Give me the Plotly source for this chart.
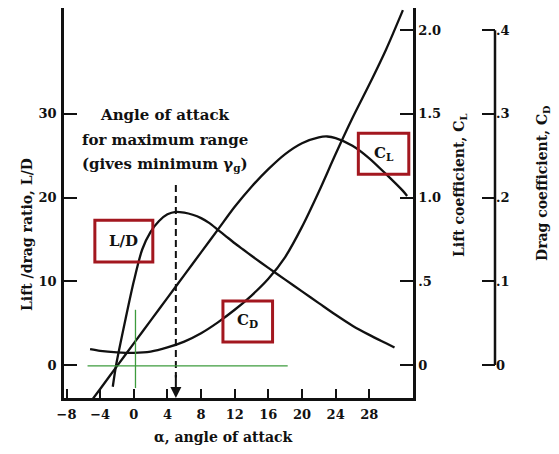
import plotly.graph_objects as go

# ---------------- data ----------------
alpha_ld = [-2.5, -2.1, -1, 0, 1, 2, 3, 4, 5, 6, 7, 8, 9, 10, 11, 12, 13, 14, 16, 18, 20, 22, 24, 26,
            28, 30, 31]
lift_drag = [-2.6, 0.0, 5.4, 10.0, 13.8, 15.9, 17.2, 18.0, 18.3, 18.2, 17.95, 17.55, 16.95, 16.15,
             15.35, 14.55, 13.8, 13.05, 11.6, 10.2, 8.8, 7.4, 6.0, 4.7, 3.6, 2.6, 2.1]

alpha_cl = [-4.9, -4, -2, 0, 2, 4, 6, 8, 10, 12, 14, 16, 18, 20, 22, 23, 24, 26, 28, 30, 32, 32.5]
lift_coef = [-0.204, -0.143, -0.007, 0.129, 0.265, 0.401, 0.537, 0.673, 0.809, 0.945, 1.065, 1.17,
             1.26, 1.325, 1.36, 1.365, 1.355, 1.31, 1.235, 1.14, 1.04, 1.01]

alpha_cd = [-5.2, -4, -2, 0, 2, 4, 6, 8, 10, 12, 14, 16, 18, 20, 22, 24, 26, 28, 30, 32]
drag_coef = [0.019, 0.017, 0.0152, 0.0145, 0.016, 0.021, 0.028, 0.038, 0.051, 0.066, 0.083, 0.103,
             0.129, 0.165, 0.207, 0.252, 0.295, 0.335, 0.377, 0.424]

x_ticks = [-8, -4, 0, 4, 8, 12, 16, 20, 24, 28]
ld_ticks = [0, 10, 20, 30]
cl_ticks = [0, 0.5, 1.0, 1.5, 2.0]
cl_tick_text = ["0", ".5", "1.0", "1.5", "2.0"]
cd_ticks = [0, 0.1, 0.2, 0.3, 0.4]
cd_tick_text = ["0", ".1", ".2", ".3", ".4"]

alpha_max_range = 5

# ---------------- layout geometry ----------------
W, H = 559, 454
ML, MR, MT, MB = 64, 20, 8, 56
PW = W - ML - MR
PH = H - MT - MB
x_range = [-8.3, 33.2]
ld_range = [-3.94, 42.65]
cl_range = [v / 20 for v in ld_range]
cd_range = [v / 100 for v in ld_range]
x_dom_end = 349 / PW
cd_pos = (495 - ML) / PW

FONT = "DejaVu Serif"
BLACK = "#111111"
RED = "#a3171f"
GREEN = "#3d9b3d"
LW = 2.3

fig = go.Figure()
fig.add_trace(go.Scatter(x=alpha_ld, y=lift_drag, mode="lines", yaxis="y",
                         line=dict(color=BLACK, width=LW, shape="spline", smoothing=0.8),
                         showlegend=False, hoverinfo="skip"))
fig.add_trace(go.Scatter(x=alpha_cl, y=lift_coef, mode="lines", yaxis="y2",
                         line=dict(color=BLACK, width=LW, shape="spline", smoothing=0.8),
                         showlegend=False, hoverinfo="skip"))
fig.add_trace(go.Scatter(x=alpha_cd, y=drag_coef, mode="lines", yaxis="y3",
                         line=dict(color=BLACK, width=LW, shape="spline", smoothing=0.8),
                         showlegend=False, hoverinfo="skip", cliponaxis=False))

tickfont = dict(family=FONT, size=13, color=BLACK, weight="bold")
fig.update_layout(
    width=W, height=H,
    margin=dict(l=ML, r=MR, t=MT, b=MB, autoexpand=False),
    paper_bgcolor="white", plot_bgcolor="white",
    font=dict(family=FONT, color=BLACK),
    xaxis=dict(domain=[0, x_dom_end], range=x_range, tickvals=x_ticks, automargin=False,
               ticks="inside", ticklen=9, tickwidth=2, tickcolor=BLACK,
               showline=True, linewidth=2.5, linecolor=BLACK, showgrid=False, zeroline=False,
               tickfont=tickfont, ticklabelstandoff=3),
    yaxis=dict(range=ld_range, tickvals=ld_ticks, ticks="inside", ticklen=13, tickwidth=2,
               tickcolor=BLACK, showline=True, linewidth=2.5, linecolor=BLACK, automargin=False,
               showgrid=False, zeroline=False, tickfont=tickfont, ticklabelstandoff=2),
    yaxis2=dict(overlaying="y", side="right", anchor="x", range=cl_range, automargin=False,
                tickvals=cl_ticks, ticktext=cl_tick_text, ticks="inside", ticklen=13,
                tickwidth=2, tickcolor=BLACK, showline=True, linewidth=2.5, linecolor=BLACK,
                showgrid=False, zeroline=False, tickfont=tickfont, ticklabelstandoff=0),
    yaxis3=dict(overlaying="y", side="right", anchor="free", position=cd_pos, range=cd_range,
                tickvals=cd_ticks, ticktext=cd_tick_text, ticks="inside", ticklen=13,
                tickwidth=2, tickcolor=BLACK, showline=False, automargin=False,
                showgrid=False, zeroline=False, tickfont=tickfont, ticklabelstandoff=0),
)

shapes = []
# CD axis line spanning 0 .. 0.4 only
shapes.append(dict(type="line", xref="paper", yref="y3", x0=cd_pos, x1=cd_pos,
                   y0=cd_ticks[0], y1=cd_ticks[-1], line=dict(color=BLACK, width=2.5)))
# dashed line at alpha for max range
shapes.append(dict(type="line", xref="x", yref="y", x0=alpha_max_range, x1=alpha_max_range,
                   y0=21.5, y1=-1.5, line=dict(color=BLACK, width=2, dash="7px,4px")))
# green helper lines
shapes.append(dict(type="line", xref="x", yref="y", x0=0.2, x1=0.2, y0=-2.75, y1=6.6,
                   line=dict(color=GREEN, width=1.3)))
shapes.append(dict(type="line", xref="x", yref="y", x0=-5.5, x1=18.3, y0=-0.1, y1=-0.1,
                   line=dict(color=GREEN, width=1.3)))
# red label boxes
boxes = [(-4.63, 2.26, 12.3, 17.3), (26.7, 32.7, 22.8, 27.7), (10.6, 16.5, 2.75, 7.65)]
for x0, x1, y0, y1 in boxes:
    shapes.append(dict(type="rect", xref="x", yref="y", x0=x0, x1=x1, y0=y0, y1=y1,
                       line=dict(color=RED, width=3), fillcolor="rgba(0,0,0,0)"))
fig.update_layout(shapes=shapes)

C = dict(xanchor="center", yanchor="middle", showarrow=False)
ann = []
labfont = dict(family=FONT, size=15, color=BLACK, weight="bold")
ann.append(dict(x=-1.19, y=14.8, xref="x", yref="y", text="L/D", font=labfont, **C))
ann.append(dict(x=29.7, y=25.3, xref="x", yref="y", text="C<sub>L</sub>", font=labfont, **C))
ann.append(dict(x=13.5, y=5.3, xref="x", yref="y", text="C<sub>D</sub>", font=labfont, **C))
# arrow head on the dashed line
ann.append(dict(x=alpha_max_range, y=ld_range[0], ax=alpha_max_range, ay=-1.0,
                xref="x", yref="y", axref="x", ayref="y", text="", showarrow=True,
                arrowhead=2, arrowsize=1.1, arrowwidth=2, arrowcolor=BLACK))
# explanatory text
txtfont = dict(family=FONT, size=15, color=BLACK, weight="bold")
for t, yv in [("Angle of attack", 29.9), ("for maximum range", 26.9),
              ("(gives minimum γ<sub>g</sub>)", 24.0)]:
    ann.append(dict(x=3.7, y=yv, xref="x", yref="y", text=t, font=txtfont, **C))
# axis titles
titfont = dict(family=FONT, size=14, color=BLACK, weight="bold")
ann.append(dict(x=(223 - ML) / PW, y=(H - MB - 437) / PH, xref="paper", yref="paper",
                text="α, angle of attack", font=titfont, **C))
ann.append(dict(x=(27 - ML) / PW, y=(H - MB - 235) / PH, xref="paper", yref="paper",
                text="Lift /drag ratio, L/D", textangle=-90, font=titfont, **C))
ann.append(dict(x=(460 - ML) / PW, y=(H - MB - 186) / PH, xref="paper", yref="paper",
                text="Lift coefficient, C<sub>L</sub>", textangle=-90, font=titfont, **C))
ann.append(dict(x=(543 - ML) / PW, y=(H - MB - 183) / PH, xref="paper", yref="paper",
                text="Drag coefficient, C<sub>D</sub>", textangle=-90, font=titfont, **C))
fig.update_layout(annotations=ann)

fig.write_html("out.html", config={"displayModeBar": False},
               post_script="document.body.style.margin='0px';document.body.style.overflow='hidden';")
